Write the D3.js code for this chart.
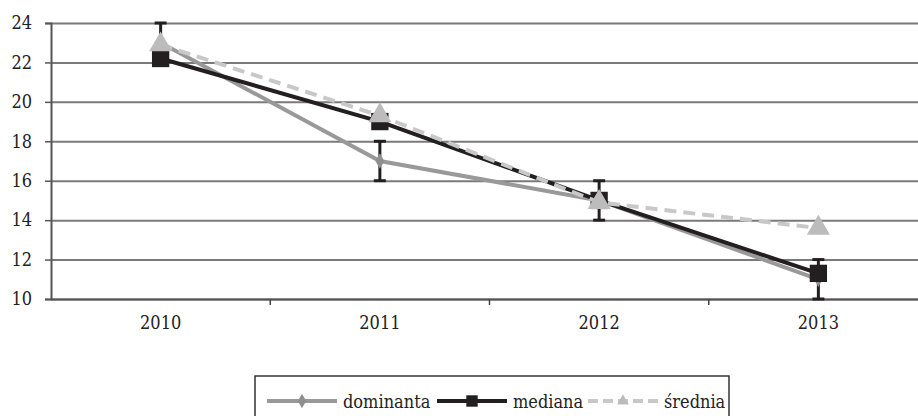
<!DOCTYPE html>
<html lang="pl">
<head>
	<meta charset="UTF-8">
	<title>dominanta / mediana / średnia</title>
	<script src="https://d3js.org/d3.v7.min.js"></script>
	<style>
		body {
			margin: 0;
			background: #fff;
		}
		svg text {
			font-stretch: condensed;
		}
		.grid line {
			stroke: #7a7a7a;
			stroke-width: 2;
		}
		.grid path {
			display: none;
		}
	</style>
</head>
<body>

<div id="chart"></div>

<script>

// Data
const years = ["2010", "2011", "2012", "2013"];
const dominanta = [23, 17, 15, 11];
const dominantaErr = [1, 1, 1, 1];
const mediana = [22.2, 19, 15, 11.3];
const srednia = [22.9, 19.3, 14.9, 13.6];
const yTicks = [10, 12, 14, 16, 18, 20, 22, 24];

const FONT = "'DejaVu Serif Condensed', 'DejaVu Serif', serif";
const FSIZE = 18;

// Margin, width, height
const margin = {top: 23, right: 0, bottom: 117, left: 51},
	  width = 877,
	  height = 416 - margin.top - margin.bottom;

const svg = d3.select("#chart")
	.append("svg")
	.attr("width", 918)
	.attr("height", 416)
	.append("g")
	.attr("transform", `translate(${margin.left},${margin.top})`);

const x = d3.scaleBand()
	.domain(years)
	.range([0, width]);

const y = d3.scaleLinear()
	.domain([10, 24])
	.range([height, 0]);

// Grid lines
svg.append("g")
	.attr("class", "grid")
	.call(d3.axisLeft(y).tickValues(yTicks).tickSize(-width).tickFormat(""));

// Y axis
const yAxis = svg.append("g")
	.call(d3.axisLeft(y).tickValues(yTicks).tickSize(6).tickPadding(13))
	.attr("font-family", FONT)
	.attr("font-size", FSIZE);
yAxis.select(".domain").attr("stroke", "#555").attr("stroke-width", 2);
yAxis.selectAll(".tick line").attr("stroke", "#555").attr("stroke-width", 1.5);
yAxis.selectAll("text").attr("fill", "#222");

// X axis
const xAxis = svg.append("g")
	.attr("transform", `translate(0,${height})`)
	.call(d3.axisBottom(x).tickSize(0).tickPadding(17))
	.attr("font-family", FONT)
	.attr("font-size", FSIZE);
xAxis.select(".domain").attr("stroke", "#555").attr("stroke-width", 2);
xAxis.selectAll("text").attr("fill", "#222");

// category boundary ticks
svg.append("g")
	.selectAll("line")
	.data(years.slice(1))
	.join("line")
	.attr("x1", d => x(d))
	.attr("x2", d => x(d))
	.attr("y1", height)
	.attr("y2", height + 6)
	.attr("stroke", "#444")
	.attr("stroke-width", 1.5);

const cx = d => x(d) + x.bandwidth() / 2;

const line = d3.line()
	.x(d => cx(d.year))
	.y(d => y(d.value));

function pairs(values) {
	return years.map((yr, i) => ({year: yr, value: values[i]}));
}

// Error bars (dominanta)
const errData = years.map((yr, i) => ({year: yr, lo: dominanta[i] - dominantaErr[i], hi: dominanta[i] + dominantaErr[i]}));
const err = svg.append("g").attr("stroke", "#231f20").attr("stroke-width", 3);
err.selectAll(".stem")
	.data(errData)
	.join("line")
	.attr("x1", d => cx(d.year))
	.attr("x2", d => cx(d.year))
	.attr("y1", d => y(d.lo))
	.attr("y2", d => y(d.hi));
err.selectAll(".capHi")
	.data(errData)
	.join("line")
	.attr("x1", d => cx(d.year) - 6)
	.attr("x2", d => cx(d.year) + 6)
	.attr("y1", d => y(d.hi))
	.attr("y2", d => y(d.hi));
err.selectAll(".capLo")
	.data(errData)
	.join("line")
	.attr("x1", d => cx(d.year) - 6)
	.attr("x2", d => cx(d.year) + 6)
	.attr("y1", d => y(d.lo))
	.attr("y2", d => y(d.lo));

// Series
const series = [
	{name: "dominanta", values: dominanta, color: "#999999", dash: null, symbol: d3.symbolDiamond, size: 70, fill: "#8f8f8f"},
	{name: "mediana", values: mediana, color: "#231f20", dash: null, symbol: d3.symbolSquare, size: 300, fill: "#231f20"},
	{name: "średnia", values: srednia, color: "#c8c8c8", dash: "12,7", symbol: d3.symbolTriangle, size: 230, fill: "#bcbcbc"}
];

series.forEach(s => {
	svg.append("path")
		.datum(pairs(s.values))
		.attr("fill", "none")
		.attr("stroke", s.color)
		.attr("stroke-width", 4)
		.attr("stroke-dasharray", s.dash)
		.attr("d", line);

	svg.append("g")
		.selectAll("path")
		.data(pairs(s.values))
		.join("path")
		.attr("transform", d => `translate(${cx(d.year)},${y(d.value)})`)
		.attr("d", d3.symbol().type(s.symbol).size(s.size))
		.attr("fill", s.fill);
});

// Legend
const legend = d3.select("svg").append("g")
	.attr("transform", "translate(255,376)");

legend.append("rect")
	.attr("width", 474)
	.attr("height", 60)
	.attr("fill", "none")
	.attr("stroke", "#333")
	.attr("stroke-width", 1.5);

const legendX = [12, 182, 333];

series.forEach((s, i) => {
	const g = legend.append("g")
		.attr("transform", `translate(${legendX[i]},25)`);
	g.append("line")
		.attr("x1", 0)
		.attr("x2", 70)
		.attr("stroke", s.color)
		.attr("stroke-width", 4)
		.attr("stroke-dasharray", s.name === "średnia" ? "10,5" : null);
	g.append("path")
		.attr("transform", "translate(35,0)")
		.attr("d", d3.symbol().type(s.symbol).size(s.name === "mediana" ? 130 : 60))
		.attr("fill", s.fill);
	g.append("text")
		.attr("x", 76)
		.attr("y", 7)
		.attr("font-family", FONT)
		.attr("font-size", FSIZE)
		.attr("fill", "#222")
		.text(s.name);
});

</script>
</body>
</html>
